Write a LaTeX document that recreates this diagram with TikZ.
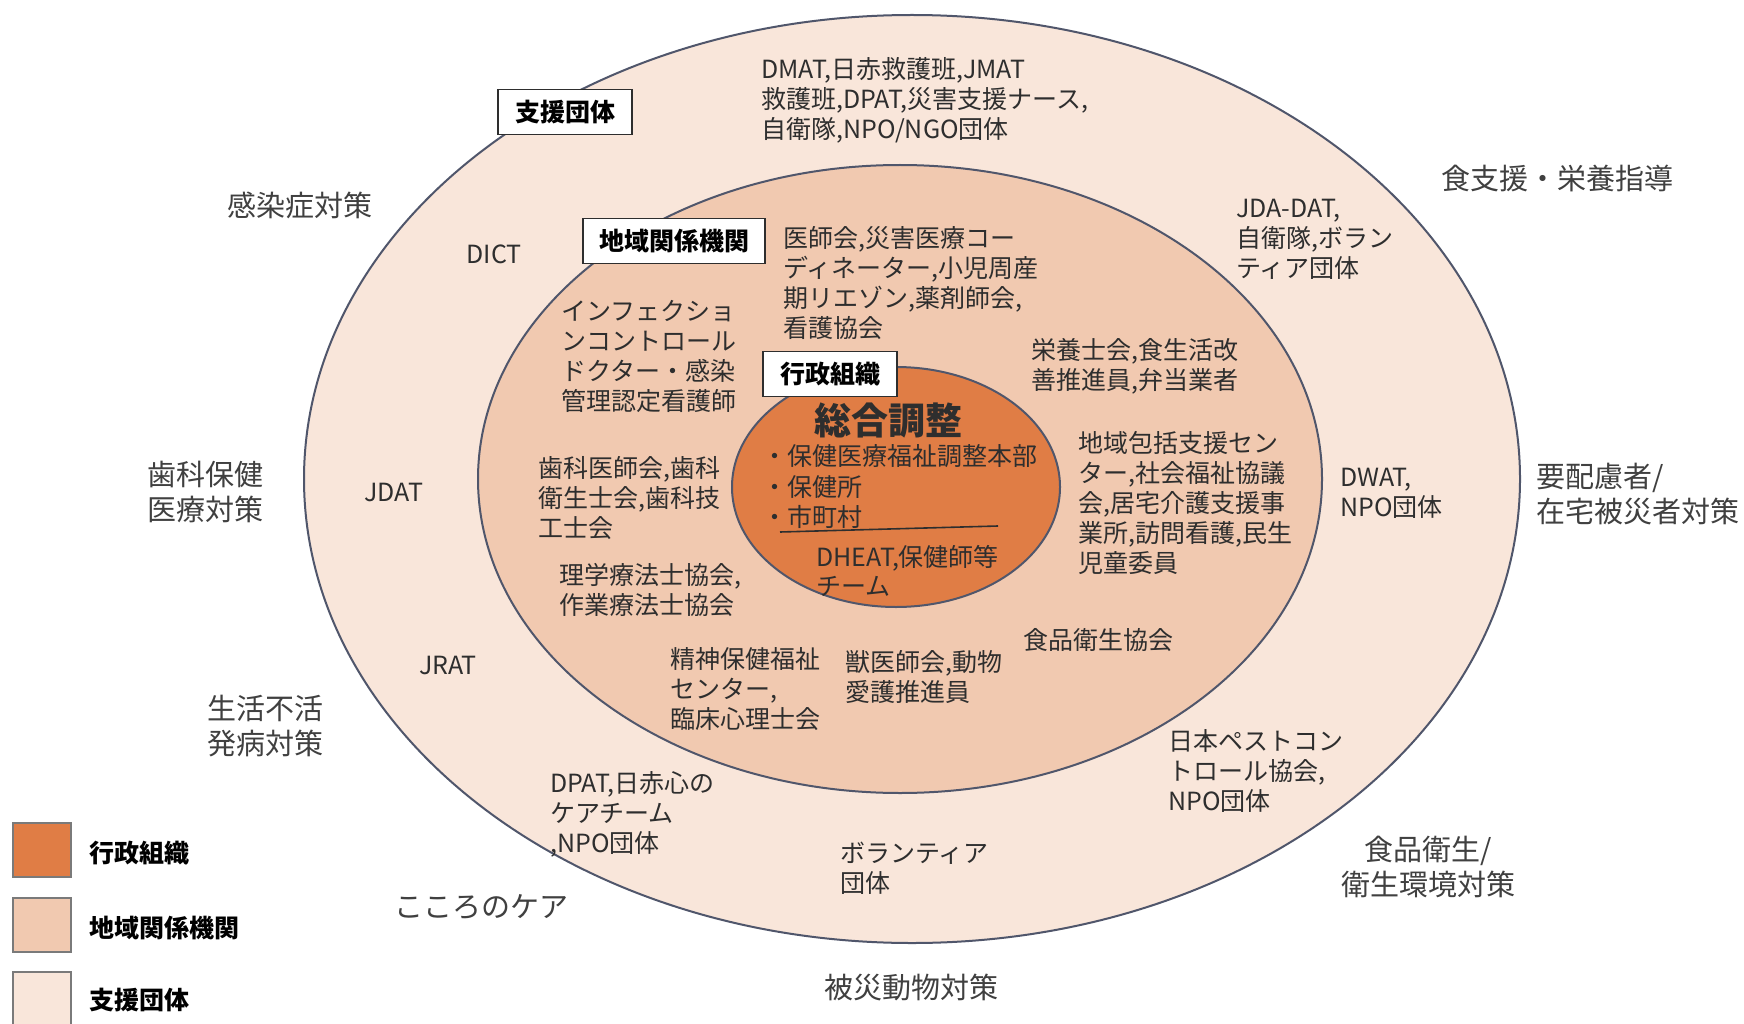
\documentclass[tikz,border=0pt]{standalone}
\usepackage{fontspec}
\setmainfont{Noto Sans CJK JP}
\definecolor{gyosei}{HTML}{E07D45}
\definecolor{chiiki}{HTML}{F1C9B0}
\definecolor{shien}{HTML}{F9E6DA}
\definecolor{rim}{HTML}{50566B}
\definecolor{txt}{HTML}{2E2E2E}
\definecolor{txtl}{HTML}{404040}
\definecolor{leggray}{HTML}{7A7A7A}
\tikzset{
  ringtxt/.style={font=\fontsize{25}{30}\selectfont, text=txt, align=left, anchor=west, inner sep=0pt},
  outlabel/.style={font=\fontsize{29}{35}\selectfont, text=txtl, align=left, inner sep=0pt},
  tagbox/.style={draw=txt, line width=1.4pt, fill=white, text=black,
    font=\bfseries\fontsize{25}{30}\selectfont, inner sep=0pt, minimum height=45pt},
  legbox/.style={draw=leggray, line width=1.6pt, minimum width=58pt, minimum height=54pt, inner sep=0pt},
  leglabel/.style={font=\bfseries\fontsize{25}{30}\selectfont, text=black, anchor=west, inner sep=0pt},
  ring/.style={draw=rim, line width=2pt},
}
\begin{document}
\begin{tikzpicture}[x=1pt,y=-1pt]
\useasboundingbox (0,0) rectangle (1744,1024);
\clip (0,0) rectangle (1744,1024);
\fill[white] (0,0) rectangle (1744,1024);

% rings
\draw[ring, fill=shien] (912,479) ellipse [x radius=608pt, y radius=464pt];
\draw[ring, fill=chiiki] (900,479) ellipse [x radius=422pt, y radius=314pt];
\draw[ring, fill=gyosei] (896,487) ellipse [x radius=164pt, y radius=120pt];

% outside labels
\node[outlabel] (kansen) at (300,205) {感染症対策};
\node[outlabel] (shokushien) at (1557,178) {食支援・栄養指導};
\node[outlabel, anchor=west] (shikahoken) at (147,492) {歯科保健\\医療対策};
\node[outlabel, anchor=west] (yohairyo) at (1536,494) {要配慮者/\\在宅被災者対策};
\node[outlabel, anchor=west] (seikatsu) at (207,726) {生活不活\\発病対策};
\node[outlabel] (kokoro) at (481,907) {こころのケア};
\node[outlabel] (hisai) at (911,987) {被災動物対策};
\node[outlabel, align=center] (shokuhin) at (1428,867) {食品衛生/\\衛生環境対策};

% outer ring (support groups)
\node[ringtxt] (dmat) at (761,100) {DMAT,日赤救護班,JMAT\\救護班,DPAT,災害支援ナース,\\自衛隊,NPO/NGO団体};
\node[ringtxt, anchor=center] (dict) at (494,254) {DICT};
\node[ringtxt] (jdadat) at (1236,239) {JDA-DAT,\\自衛隊,ボラン\\ティア団体};
\node[ringtxt, anchor=center] (jdat) at (394,492) {JDAT};
\node[ringtxt] (dwat) at (1340,493) {DWAT,\\NPO団体};
\node[ringtxt, anchor=center] (jrat) at (448,665) {JRAT};
\node[ringtxt] (dpat) at (550,814) {DPAT,日赤心の\\ケアチーム\\,NPO団体};
\node[ringtxt] (volunteer) at (840,868) {ボランティア\\団体};
\node[ringtxt] (pest) at (1168,771) {日本ペストコン\\トロール協会,\\NPO団体};

% middle ring (local organisations)
\node[ringtxt] (ishikai) at (783,283) {医師会,災害医療コー\\ディネーター,小児周産\\期リエゾン,薬剤師会,\\看護協会};
\node[ringtxt] (infection) at (561,356) {インフェクショ\\ンコントロール\\ドクター・感染\\管理認定看護師};
\node[ringtxt] (eiyoshi) at (1031,366) {栄養士会,食生活改\\善推進員,弁当業者};
\node[ringtxt] (shikaishi) at (538,498) {歯科医師会,歯科\\衛生士会,歯科技\\工士会};
\node[ringtxt] (houkatsu) at (1078,503) {地域包括支援セン\\ター,社会福祉協議\\会,居宅介護支援事\\業所,訪問看護,民生\\児童委員};
\node[ringtxt] (rigaku) at (559,590) {理学療法士協会,\\作業療法士協会};
\node[ringtxt] (shokueikyo) at (1023,640) {食品衛生協会};
\node[ringtxt] (seishin) at (670,689) {精神保健福祉\\センター,\\臨床心理士会};
\node[ringtxt] (juui) at (845,677) {獣医師会,動物\\愛護推進員};

% inner ellipse (administration)
\node[font=\bfseries\fontsize{37}{40}\selectfont, text=txt, inner sep=0pt] (sogo) at (888,420) {総合調整};
\node[ringtxt, font=\fontsize{25}{30.5}\selectfont] (bullets) at (762,487) {・保健医療福祉調整本部\\・保健所\\・市町村};
\coordinate (divL) at (780,532);
\coordinate (divR) at (998,526);
\draw[txt, line width=1.6pt] (divL) -- (divR);
\node[ringtxt, font=\fontsize{25}{29}\selectfont] (dheat) at (816,571) {DHEAT,保健師等\\チーム};

% tag boxes
\node[tagbox, minimum width=134pt] (tagshien) at (565,112) {支援団体};
\node[tagbox, minimum width=182pt] (tagchiiki) at (674,241) {地域関係機関};
\node[tagbox, minimum width=134pt] (taggyosei) at (830,374) {行政組織};

% legend
\node[legbox, fill=gyosei] (leg1) at (42,850) {};
\node[legbox, fill=chiiki] (leg2) at (42,925) {};
\node[legbox, fill=shien] (leg3) at (42,999) {};
\node[leglabel] (leg1t) at (89,853) {行政組織};
\node[leglabel] (leg2t) at (89,928) {地域関係機関};
\node[leglabel] (leg3t) at (89,1000) {支援団体};
\end{tikzpicture}
\end{document}
